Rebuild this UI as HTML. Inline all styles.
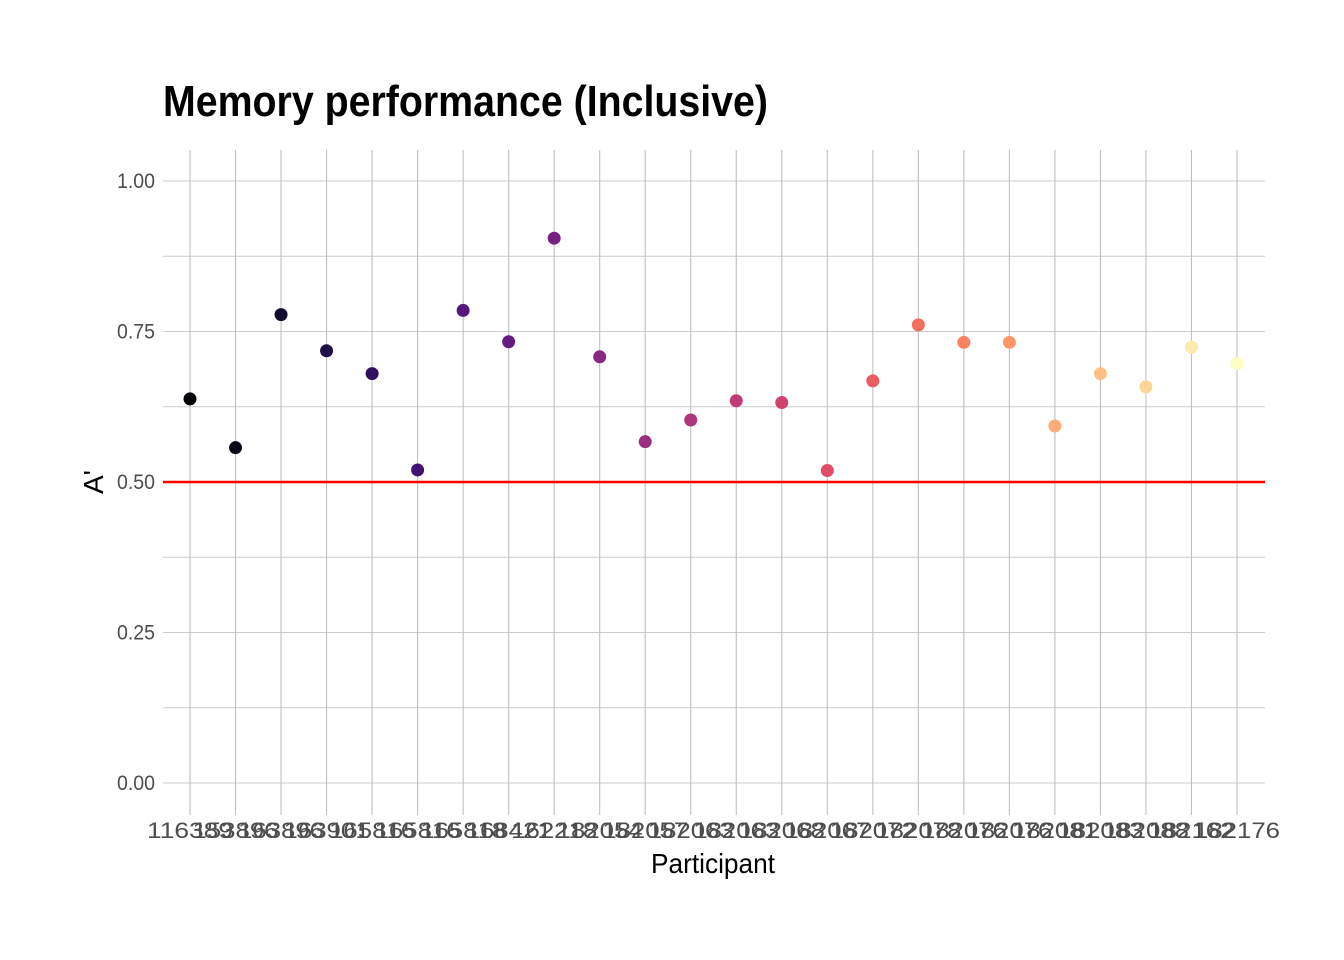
<!DOCTYPE html>
<html><head><meta charset="utf-8"><style>body{margin:0;background:#fff}svg{display:block}</style></head>
<body>
<svg id="chart" width="1344" height="960" xmlns="http://www.w3.org/2000/svg" font-family="Liberation Sans, sans-serif">
<rect width="1344" height="960" fill="#fff"/>
<text x="163" y="116" font-size="44" font-weight="bold" textLength="605" lengthAdjust="spacingAndGlyphs">Memory performance (Inclusive)</text>
<g id="grid"></g><g id="marks"></g><g id="labels"></g>
<text x="713" y="873" font-size="28" text-anchor="middle" textLength="124" lengthAdjust="spacingAndGlyphs">Participant</text>
<text transform="translate(103,482) rotate(-90)" font-size="28" text-anchor="middle">A'</text>
</svg>
<script>
const participants=["116389","153896","163896","163901","165816","165816","165818","168421","162218","182054","182057","182063","182063","182068","182067","182072","182078","182076","182076","182081","182083","182088","182162","182176"];
const aprime=[0.638,0.557,0.778,0.718,0.680,0.520,0.785,0.733,0.905,0.708,0.567,0.603,0.635,0.632,0.519,0.668,0.761,0.732,0.732,0.593,0.680,0.658,0.724,0.697];
const yTicks=[0,0.25,0.5,0.75,1.0];
const yTickLabels=["0.00","0.25","0.50","0.75","1.00"];
const refLine=0.5;
const NS="http://www.w3.org/2000/svg";
const X0=163,X1=1265,Y0=150,Y1=815;
const x=i=>190+i*(1237-190)/(participants.length-1);
const y=v=>783-v*602;
function mk(t,a,p){const e=document.createElementNS(NS,t);for(const k in a)e.setAttribute(k,a[k]);p.appendChild(e);return e;}
const grid=document.getElementById('grid'),marks=document.getElementById('marks'),labels=document.getElementById('labels');
for(let v=0;v<=1.0001;v+=0.125){const l=mk('line',{x1:X0,x2:X1,y1:y(v),y2:y(v),stroke:'#cccccc','stroke-width':1.1},grid);

}
participants.forEach((p,i)=>{const l=mk('line',{x1:x(i),x2:x(i),y1:Y0,y2:Y1,stroke:'#c0c0c0','stroke-width':1.1},grid);


const t=mk('text',{x:x(i),y:838,'font-size':22,'text-anchor':'middle',fill:'#4d4d4d',textLength:86,lengthAdjust:'spacingAndGlyphs'},labels);t.textContent=p;

});
yTicks.forEach((v,i)=>{const t=mk('text',{x:155,y:y(v)+7,'font-size':21,'text-anchor':'end',fill:'#4d4d4d',textLength:38,lengthAdjust:'spacingAndGlyphs'},labels);t.textContent=yTickLabels[i];

});
const rl=mk('line',{x1:X0,x2:X1,y1:y(refLine),y2:y(refLine),stroke:'#ff0000','stroke-width':2.5},marks);


const stops=[[0,0,4],[20,14,54],[59,15,112],[100,26,128],[140,41,129],[183,55,121],[222,73,104],[247,112,92],[254,159,109],[254,207,146],[252,253,191]];
function magma(t){const s=t*10,k=Math.min(9,Math.floor(s)),f=s-k,a=stops[k],b=stops[k+1];return `rgb(${a.map((c,j)=>Math.round(c+(b[j]-c)*f)).join(',')})`;}
aprime.forEach((v,i)=>{const c=mk('circle',{cx:x(i),cy:y(v),r:6.5,fill:magma(i/(aprime.length-1))},marks);

});
</script>
</body></html>
